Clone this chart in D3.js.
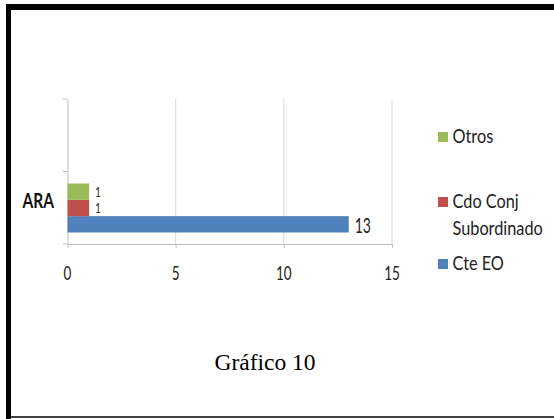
<!DOCTYPE html>
<html><head><meta charset="utf-8">
<script src="https://cdn.jsdelivr.net/npm/d3@7"></script>
<style>body{margin:0;background:#fff}svg{display:block}</style>
</head><body>
<script>
const categories = ["ARA", ""];
const seriesNames = ["Cte EO", "Cdo Conj Subordinado", "Otros"];
const cteEO = [13, null];
const cdoConj = [1, null];
const otros = [1, null];
const xTicks = [0, 5, 10, 15];
const colors = ["#4f81bd", "#c0504d", "#9bbb59"];
const caption = "Gráfico 10";

const W = 554, H = 419;
const svg = d3.select("body").append("svg").attr("width", W).attr("height", H);
const font = "Lato, 'Open Sans', sans-serif";

function stext(g, x, y, txt, size, k, opts = {}) {
  return g.append("text")
    .attr("transform", `translate(${x},${y}) scale(1,${k})`)
    .attr("text-anchor", opts.anchor || "start")
    .attr("font-family", opts.family || font)
    .attr("font-weight", opts.weight || "normal")
    .attr("font-size", size).attr("fill", opts.fill || "#222").text(txt);
}

// frame
svg.append("rect").attr("x", 6).attr("y", 4).attr("width", 560).attr("height", 6).attr("fill", "#000");
svg.append("rect").attr("x", 6).attr("y", 4).attr("width", 5).attr("height", 420).attr("fill", "#000");
svg.append("line").attr("x1", 6).attr("x2", 560).attr("y1", 417).attr("y2", 417).attr("stroke", "#000").attr("stroke-width", 1.5);

const x = d3.scaleLinear().domain([0, 15]).range([67.5, 392]);
const y = d3.scaleBand().domain(categories.slice().reverse()).range([99, 244]);

// gridlines
svg.append("g").selectAll("line").data(xTicks.slice(1)).join("line")
  .attr("x1", d => x(d)).attr("x2", d => x(d)).attr("y1", 99).attr("y2", 244)
  .attr("stroke", "#d9d9d9").attr("stroke-width", 1);

// x axis
const xAxis = svg.append("g").attr("transform", "translate(0,244)")
  .call(d3.axisBottom(x).tickValues(xTicks).tickSize(4).tickSizeOuter(0).tickFormat(""));
xAxis.select(".domain").attr("stroke", "#bfbfbf");
xAxis.selectAll(".tick line").attr("stroke", "#bfbfbf");
const xl = svg.append("g");
xTicks.forEach(t => stext(xl, x(t), 280, x.tickFormat()(t), 13.5, 1.4, {anchor: "middle"}));

// y axis
const yAxis = svg.append("g").attr("transform", "translate(67.5,0)")
  .call(d3.axisLeft(y).tickValues([]).tickSizeOuter(0));
yAxis.select(".domain").attr("stroke", "#bfbfbf");
const bounds = [y.range()[0], y.range()[0] + y.step(), y.range()[1]];
yAxis.selectAll(".bt").data(bounds).join("line").attr("class", "bt")
  .attr("x1", -5).attr("x2", 0).attr("y1", d => d).attr("y2", d => d).attr("stroke", "#bfbfbf");
const yl = svg.append("g");
categories.filter(c => c).forEach(c =>
  stext(yl, 54, y(c) + y.bandwidth() / 2, c, 15.5, 1.35,
        {anchor: "end", weight: "bold", fill: "#111"}));

// bars
const series = [cteEO, cdoConj, otros];
const inner = d3.scaleBand().domain([2, 1, 0]).range([0, 49]);
series.forEach((vals, si) => {
  const g = svg.append("g");
  categories.forEach((c, ci) => {
    const v = vals[ci];
    if (v == null) return;
    const by = y(c) + 12 + inner(si);
    g.append("rect").attr("x", x(0)).attr("y", by)
      .attr("width", x(v) - x(0)).attr("height", inner.bandwidth())
      .attr("fill", colors[si]);
    if (si === 0) stext(g, x(v) + 6, by + inner.bandwidth(), v, 14, 1.45);
    else stext(g, x(v) + 6, by + inner.bandwidth() - 3, v, 9.5, 1.4);
  });
});

// legend
const legend = [
  {name: ["Otros"], color: colors[2], y: 143},
  {name: ["Cdo Conj", "Subordinado"], color: colors[1], y: 208},
  {name: ["Cte EO"], color: colors[0], y: 270}
];
const lg = svg.append("g");
legend.forEach(l => {
  lg.append("rect").attr("x", 438).attr("y", l.y - 11).attr("width", 10).attr("height", 10).attr("fill", l.color);
  l.name.forEach((t, i) => stext(lg, 452.5, l.y + i * 27, t, 16.3, 1.12));
});

stext(svg, 265, 370, caption, 23.5, 1, {anchor: "middle", family: "'Liberation Serif', 'Times New Roman', serif", fill: "#000"});
</script>
</body></html>
